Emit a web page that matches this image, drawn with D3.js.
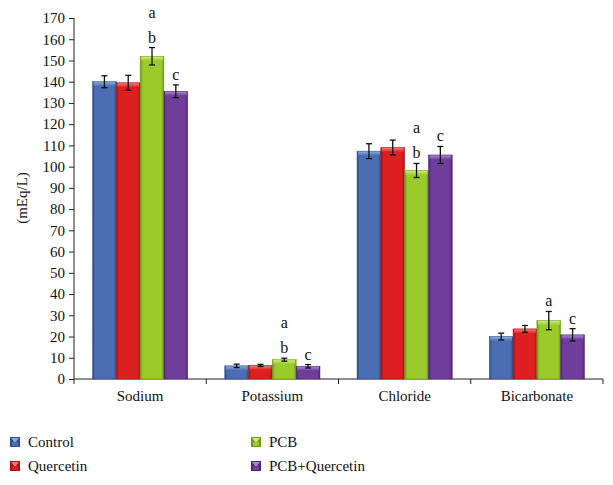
<!DOCTYPE html>
<html><head><meta charset="utf-8">
<script src="https://cdn.jsdelivr.net/npm/d3@7"></script>
<style>body{margin:0;background:#fff}svg{display:block}</style>
</head><body><svg id="c" width="613" height="485"></svg>
<script>
const categories = ["Sodium","Potassium","Chloride","Bicarbonate"];
const series = ["Control","Quercetin","PCB","PCB+Quercetin"];
const control = [140, 6.2, 107.3, 20.0];
const quercetin = [139.5, 6.4, 109.0, 23.6];
const pcb = [152, 9.1, 98.2, 27.5];
const pcbQuercetin = [135.5, 6.0, 105.5, 20.8];
const errControl = [2.8, 0.8, 3.5, 1.6];
const errQuercetin = [3.5, 0.5, 3.5, 1.6];
const errPcb = [4.1, 0.7, 3.3, 4.3];
const errPcbQuercetin = [3.0, 0.8, 4.0, 2.9];
// significance letters (stacked top to bottom) for PCB and PCB+Quercetin bars
const lettersPcb = [["a","b"],["a","b"],["a","b"],["a"]];
const lettersPcbQuercetin = [["c"],["c"],["c"],["c"]];
const yTicks = [0,10,20,30,40,50,60,70,80,90,100,110,120,130,140,150,160,170];
const colors = ["#4a6db3","#dd1f1f","#9acb2b","#6f3d9c"];
const darks  = ["#2f4e8c","#a31313","#6f9a16","#4f2676"];
const lights = ["#8aa8dc","#f27a7a","#cbeb7a","#a985cc"];

(function(){
const FONT = "'Liberation Serif', 'DejaVu Serif', serif";
const values = [control, quercetin, pcb, pcbQuercetin];
const errs = [errControl, errQuercetin, errPcb, errPcbQuercetin];
const letters = [null, null, lettersPcb, lettersPcbQuercetin];

const svg = d3.select("#c");
const mLeft = 74, mRight = 603, mTop = 18, mBottom = 379;
const x0 = d3.scaleBand().domain(categories).range([mLeft, mRight]).padding(0);
const x1 = d3.scaleBand().domain(series).range([x0.bandwidth()*0.14, x0.bandwidth()*0.86]).padding(0);
const y = d3.scaleLinear().domain([0,170]).range([mBottom, mTop]);

const defs = svg.append("defs");
series.forEach((s,i)=>{
  const g = defs.append("linearGradient").attr("id","g"+i).attr("x1","0").attr("x2","1").attr("y1","0").attr("y2","0");
  g.append("stop").attr("offset","0").attr("stop-color",darks[i]);
  g.append("stop").attr("offset","0.12").attr("stop-color",colors[i]);
  g.append("stop").attr("offset","0.5").attr("stop-color",colors[i]);
  g.append("stop").attr("offset","0.88").attr("stop-color",colors[i]);
  g.append("stop").attr("offset","1").attr("stop-color",darks[i]);
  const t = defs.append("linearGradient").attr("id","t"+i).attr("x1","0").attr("x2","0").attr("y1","0").attr("y2","1");
  t.append("stop").attr("offset","0").attr("stop-color",lights[i]);
  t.append("stop").attr("offset","1").attr("stop-color",colors[i]);
});

const yAxis = svg.append("g").attr("transform",`translate(${mLeft},0)`)
  .call(d3.axisLeft(y).tickValues(yTicks).tickSize(5).tickPadding(4).tickFormat(d3.format("d")));
yAxis.attr("font-family",null).attr("font-size",null);
yAxis.selectAll("text").style("font-size","15px").style("font-family",FONT).attr("fill","#111");
yAxis.selectAll("line,path").attr("stroke","#222");
yAxis.select("path").attr("d",`M0,${mTop}V${mBottom}`);

const xAxis = svg.append("g").attr("transform",`translate(0,${mBottom})`);
xAxis.append("line").attr("x1",mLeft).attr("x2",mRight).attr("stroke","#222");
const bounds = categories.map(c=>x0(c)).concat([mRight]);
xAxis.selectAll(".tk").data(bounds).join("line").attr("x1",d=>d).attr("x2",d=>d).attr("y1",0).attr("y2",5).attr("stroke","#222");
xAxis.selectAll(".lb").data(categories).join("text")
  .attr("x",d=>x0(d)+x0.bandwidth()/2).attr("y",22).attr("text-anchor","middle")
  .style("font-size","15px").style("font-family",FONT).attr("fill","#111").text(d=>d);

categories.forEach((c,ci)=>{
  const g = svg.append("g").attr("transform",`translate(${x0(c)},0)`);
  series.forEach((s,si)=>{
    const v = values[si][ci], e = errs[si][ci];
    const bx = x1(s), bw = x1.bandwidth();
    g.append("rect").attr("x",bx).attr("y",y(v)).attr("width",bw).attr("height",y(0)-y(v))
      .attr("fill",`url(#g${si})`).attr("stroke",darks[si]).attr("stroke-width",0.5);
    g.append("rect").attr("x",bx+1).attr("y",y(v)+0.5).attr("width",bw-2).attr("height",Math.min(4,y(0)-y(v)-1))
      .attr("fill",`url(#t${si})`);
    const cx = bx + bw/2;
    g.append("line").attr("x1",cx).attr("x2",cx).attr("y1",y(v+e)).attr("y2",y(v-e)).attr("stroke","#111").attr("stroke-width",1.3);
    [v+e, v-e].forEach(t=>g.append("line").attr("x1",cx-3).attr("x2",cx+3).attr("y1",y(t)).attr("y2",y(t)).attr("stroke","#111").attr("stroke-width",1.3));
    if (letters[si]) {
      const L = letters[si][ci];
      L.slice().reverse().forEach((t,k)=>{
        g.append("text").attr("x",cx).attr("y",y(v+e)-5-k*25).attr("text-anchor","middle")
          .style("font-size","16px").style("font-family",FONT).attr("fill","#111").text(t);
      });
    }
  });
});

svg.append("text").attr("transform","translate(27,198) rotate(-90)").attr("text-anchor","middle")
  .style("font-size","15px").style("font-family",FONT).attr("fill","#111").text("(mEq/L)");

const legPos = [[10,442],[10,466],[251,442],[251,466]];
series.forEach((s,i)=>{
  const [lx,ly] = legPos[i];
  const g = svg.append("g").attr("transform",`translate(${lx},${ly})`);
  g.append("rect").attr("x",0).attr("y",-5).attr("width",10).attr("height",10).attr("fill",darks[i]);
  g.append("path").attr("d","M1,-4L9,-4L5,1Z").attr("fill",lights[i]);
  g.append("rect").attr("x",2).attr("y",0).attr("width",6).attr("height",4).attr("fill",colors[i]);
  g.append("text").attr("x",18).attr("y",5).style("font-size","15px").style("font-family",FONT).attr("fill","#111").text(s);
});
})();
</script></body></html>
